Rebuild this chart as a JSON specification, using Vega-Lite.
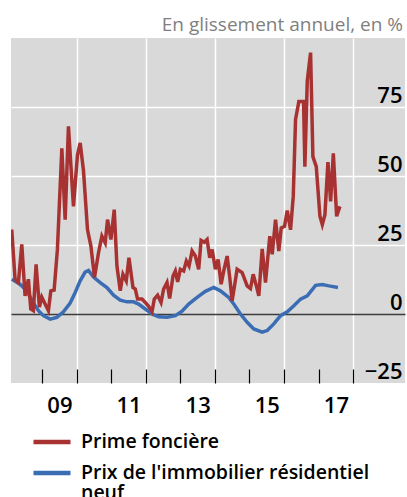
{
  "$schema": "https://vega.github.io/schema/vega-lite/v6.json",
  "width": 394,
  "height": 345,
  "autosize": {"type": "none"},
  "padding": {"left": 11, "top": 38, "right": 2, "bottom": 114},
  "background": "#ffffff",
  "title": {
    "text": "En glissement annuel, en %",
    "anchor": "end",
    "orient": "top",
    "offset": 3,
    "dx": -2,
    "font": "Open Sans",
    "fontSize": 19,
    "fontWeight": "normal",
    "color": "#7f7f7f"
  },
  "config": {
    "view": {"fill": "#d9d9d9", "stroke": null},
    "font": "Open Sans"
  },
  "data": {
    "values": [
      {"date": 2008.122, "value": 12.6, "series": "Prix de l'immobilier résidentiel neuf"},
      {"date": 2008.362, "value": 10.8, "series": "Prix de l'immobilier résidentiel neuf"},
      {"date": 2008.557, "value": 8.4, "series": "Prix de l'immobilier résidentiel neuf"},
      {"date": 2008.748, "value": 4.0, "series": "Prix de l'immobilier résidentiel neuf"},
      {"date": 2008.893, "value": 1.2, "series": "Prix de l'immobilier résidentiel neuf"},
      {"date": 2009.038, "value": -0.6, "series": "Prix de l'immobilier résidentiel neuf"},
      {"date": 2009.232, "value": -1.9, "series": "Prix de l'immobilier résidentiel neuf"},
      {"date": 2009.426, "value": -1.2, "series": "Prix de l'immobilier résidentiel neuf"},
      {"date": 2009.617, "value": 0.8, "series": "Prix de l'immobilier résidentiel neuf"},
      {"date": 2009.812, "value": 4.0, "series": "Prix de l'immobilier résidentiel neuf"},
      {"date": 2009.957, "value": 7.8, "series": "Prix de l'immobilier résidentiel neuf"},
      {"date": 2010.101, "value": 12.0, "series": "Prix de l'immobilier résidentiel neuf"},
      {"date": 2010.246, "value": 15.2, "series": "Prix de l'immobilier résidentiel neuf"},
      {"date": 2010.342, "value": 15.8, "series": "Prix de l'immobilier résidentiel neuf"},
      {"date": 2010.487, "value": 13.4, "series": "Prix de l'immobilier résidentiel neuf"},
      {"date": 2010.681, "value": 11.4, "series": "Prix de l'immobilier résidentiel neuf"},
      {"date": 2010.875, "value": 9.6, "series": "Prix de l'immobilier résidentiel neuf"},
      {"date": 2011.067, "value": 6.8, "series": "Prix de l'immobilier résidentiel neuf"},
      {"date": 2011.261, "value": 5.0, "series": "Prix de l'immobilier résidentiel neuf"},
      {"date": 2011.455, "value": 4.4, "series": "Prix de l'immobilier résidentiel neuf"},
      {"date": 2011.646, "value": 4.4, "series": "Prix de l'immobilier résidentiel neuf"},
      {"date": 2011.791, "value": 3.6, "series": "Prix de l'immobilier résidentiel neuf"},
      {"date": 2011.986, "value": 1.8, "series": "Prix de l'immobilier résidentiel neuf"},
      {"date": 2012.180, "value": 0.0, "series": "Prix de l'immobilier résidentiel neuf"},
      {"date": 2012.371, "value": -1.0, "series": "Prix de l'immobilier résidentiel neuf"},
      {"date": 2012.614, "value": -1.2, "series": "Prix de l'immobilier résidentiel neuf"},
      {"date": 2012.855, "value": -0.6, "series": "Prix de l'immobilier résidentiel neuf"},
      {"date": 2013.049, "value": 1.0, "series": "Prix de l'immobilier résidentiel neuf"},
      {"date": 2013.241, "value": 3.6, "series": "Prix de l'immobilier résidentiel neuf"},
      {"date": 2013.484, "value": 6.0, "series": "Prix de l'immobilier résidentiel neuf"},
      {"date": 2013.725, "value": 8.2, "series": "Prix de l'immobilier résidentiel neuf"},
      {"date": 2013.965, "value": 9.6, "series": "Prix de l'immobilier résidentiel neuf"},
      {"date": 2014.159, "value": 8.4, "series": "Prix de l'immobilier résidentiel neuf"},
      {"date": 2014.400, "value": 6.0, "series": "Prix de l'immobilier résidentiel neuf"},
      {"date": 2014.545, "value": 3.6, "series": "Prix de l'immobilier résidentiel neuf"},
      {"date": 2014.739, "value": 0.0, "series": "Prix de l'immobilier résidentiel neuf"},
      {"date": 2014.933, "value": -3.0, "series": "Prix de l'immobilier résidentiel neuf"},
      {"date": 2015.125, "value": -5.4, "series": "Prix de l'immobilier résidentiel neuf"},
      {"date": 2015.368, "value": -6.6, "series": "Prix de l'immobilier résidentiel neuf"},
      {"date": 2015.513, "value": -6.0, "series": "Prix de l'immobilier résidentiel neuf"},
      {"date": 2015.704, "value": -3.6, "series": "Prix de l'immobilier résidentiel neuf"},
      {"date": 2015.899, "value": -0.6, "series": "Prix de l'immobilier résidentiel neuf"},
      {"date": 2016.093, "value": 0.8, "series": "Prix de l'immobilier résidentiel neuf"},
      {"date": 2016.284, "value": 3.0, "series": "Prix de l'immobilier résidentiel neuf"},
      {"date": 2016.478, "value": 5.4, "series": "Prix de l'immobilier résidentiel neuf"},
      {"date": 2016.672, "value": 6.6, "series": "Prix de l'immobilier résidentiel neuf"},
      {"date": 2016.913, "value": 10.4, "series": "Prix de l'immobilier résidentiel neuf"},
      {"date": 2017.107, "value": 10.7, "series": "Prix de l'immobilier résidentiel neuf"},
      {"date": 2017.299, "value": 10.2, "series": "Prix de l'immobilier résidentiel neuf"},
      {"date": 2017.559, "value": 9.6, "series": "Prix de l'immobilier résidentiel neuf"},
      {"date": 2008.122, "value": 30.6, "series": "Prime foncière"},
      {"date": 2008.217, "value": 12.6, "series": "Prime foncière"},
      {"date": 2008.313, "value": 11.4, "series": "Prime foncière"},
      {"date": 2008.412, "value": 25.2, "series": "Prime foncière"},
      {"date": 2008.507, "value": 6.6, "series": "Prime foncière"},
      {"date": 2008.603, "value": 12.6, "series": "Prime foncière"},
      {"date": 2008.672, "value": 1.8, "series": "Prime foncière"},
      {"date": 2008.748, "value": 1.2, "series": "Prime foncière"},
      {"date": 2008.826, "value": 18.0, "series": "Prime foncière"},
      {"date": 2008.922, "value": 2.5, "series": "Prime foncière"},
      {"date": 2008.991, "value": 6.1, "series": "Prime foncière"},
      {"date": 2009.087, "value": 3.6, "series": "Prime foncière"},
      {"date": 2009.183, "value": 1.2, "series": "Prime foncière"},
      {"date": 2009.252, "value": 8.4, "series": "Prime foncière"},
      {"date": 2009.348, "value": 8.7, "series": "Prime foncière"},
      {"date": 2009.443, "value": 23.4, "series": "Prime foncière"},
      {"date": 2009.571, "value": 60.0, "series": "Prime foncière"},
      {"date": 2009.667, "value": 34.2, "series": "Prime foncière"},
      {"date": 2009.762, "value": 68.0, "series": "Prime foncière"},
      {"date": 2009.907, "value": 39.0, "series": "Prime foncière"},
      {"date": 2010.023, "value": 57.6, "series": "Prime foncière"},
      {"date": 2010.101, "value": 62.0, "series": "Prime foncière"},
      {"date": 2010.197, "value": 52.0, "series": "Prime foncière"},
      {"date": 2010.313, "value": 30.6, "series": "Prime foncière"},
      {"date": 2010.412, "value": 24.6, "series": "Prime foncière"},
      {"date": 2010.516, "value": 13.2, "series": "Prime foncière"},
      {"date": 2010.632, "value": 22.2, "series": "Prime foncière"},
      {"date": 2010.730, "value": 28.2, "series": "Prime foncière"},
      {"date": 2010.826, "value": 25.8, "series": "Prime foncière"},
      {"date": 2010.893, "value": 34.2, "series": "Prime foncière"},
      {"date": 2010.991, "value": 27.0, "series": "Prime foncière"},
      {"date": 2011.087, "value": 37.8, "series": "Prime foncière"},
      {"date": 2011.165, "value": 17.4, "series": "Prime foncière"},
      {"date": 2011.261, "value": 8.4, "series": "Prime foncière"},
      {"date": 2011.339, "value": 14.4, "series": "Prime foncière"},
      {"date": 2011.435, "value": 12.0, "series": "Prime foncière"},
      {"date": 2011.513, "value": 20.4, "series": "Prime foncière"},
      {"date": 2011.629, "value": 9.6, "series": "Prime foncière"},
      {"date": 2011.696, "value": 9.0, "series": "Prime foncière"},
      {"date": 2011.762, "value": 5.4, "series": "Prime foncière"},
      {"date": 2011.890, "value": 5.4, "series": "Prime foncière"},
      {"date": 2011.986, "value": 4.2, "series": "Prime foncière"},
      {"date": 2012.081, "value": 2.8, "series": "Prime foncière"},
      {"date": 2012.180, "value": 0.8, "series": "Prime foncière"},
      {"date": 2012.246, "value": 5.4, "series": "Prime foncière"},
      {"date": 2012.342, "value": 6.8, "series": "Prime foncière"},
      {"date": 2012.441, "value": 4.2, "series": "Prime foncière"},
      {"date": 2012.516, "value": 9.0, "series": "Prime foncière"},
      {"date": 2012.614, "value": 11.4, "series": "Prime foncière"},
      {"date": 2012.690, "value": 5.6, "series": "Prime foncière"},
      {"date": 2012.788, "value": 13.8, "series": "Prime foncière"},
      {"date": 2012.855, "value": 15.6, "series": "Prime foncière"},
      {"date": 2012.922, "value": 11.6, "series": "Prime foncière"},
      {"date": 2013.000, "value": 16.2, "series": "Prime foncière"},
      {"date": 2013.096, "value": 15.6, "series": "Prime foncière"},
      {"date": 2013.174, "value": 19.2, "series": "Prime foncière"},
      {"date": 2013.252, "value": 17.4, "series": "Prime foncière"},
      {"date": 2013.339, "value": 22.8, "series": "Prime foncière"},
      {"date": 2013.435, "value": 21.0, "series": "Prime foncière"},
      {"date": 2013.530, "value": 16.2, "series": "Prime foncière"},
      {"date": 2013.600, "value": 26.7, "series": "Prime foncière"},
      {"date": 2013.696, "value": 26.0, "series": "Prime foncière"},
      {"date": 2013.774, "value": 27.0, "series": "Prime foncière"},
      {"date": 2013.849, "value": 20.4, "series": "Prime foncière"},
      {"date": 2013.919, "value": 23.4, "series": "Prime foncière"},
      {"date": 2014.014, "value": 16.2, "series": "Prime foncière"},
      {"date": 2014.093, "value": 19.8, "series": "Prime foncière"},
      {"date": 2014.180, "value": 10.8, "series": "Prime foncière"},
      {"date": 2014.255, "value": 15.6, "series": "Prime foncière"},
      {"date": 2014.354, "value": 21.0, "series": "Prime foncière"},
      {"date": 2014.429, "value": 13.2, "series": "Prime foncière"},
      {"date": 2014.499, "value": 4.8, "series": "Prime foncière"},
      {"date": 2014.643, "value": 16.2, "series": "Prime foncière"},
      {"date": 2014.788, "value": 15.0, "series": "Prime foncière"},
      {"date": 2014.933, "value": 10.2, "series": "Prime foncière"},
      {"date": 2015.029, "value": 9.2, "series": "Prime foncière"},
      {"date": 2015.107, "value": 14.4, "series": "Prime foncière"},
      {"date": 2015.203, "value": 10.0, "series": "Prime foncière"},
      {"date": 2015.270, "value": 6.6, "series": "Prime foncière"},
      {"date": 2015.368, "value": 23.6, "series": "Prime foncière"},
      {"date": 2015.464, "value": 11.4, "series": "Prime foncière"},
      {"date": 2015.588, "value": 28.2, "series": "Prime foncière"},
      {"date": 2015.658, "value": 21.6, "series": "Prime foncière"},
      {"date": 2015.754, "value": 34.2, "series": "Prime foncière"},
      {"date": 2015.849, "value": 22.8, "series": "Prime foncière"},
      {"date": 2015.919, "value": 31.2, "series": "Prime foncière"},
      {"date": 2016.014, "value": 31.8, "series": "Prime foncière"},
      {"date": 2016.093, "value": 37.5, "series": "Prime foncière"},
      {"date": 2016.188, "value": 30.5, "series": "Prime foncière"},
      {"date": 2016.267, "value": 42.6, "series": "Prime foncière"},
      {"date": 2016.333, "value": 70.5, "series": "Prime foncière"},
      {"date": 2016.429, "value": 77.0, "series": "Prime foncière"},
      {"date": 2016.565, "value": 77.0, "series": "Prime foncière"},
      {"date": 2016.603, "value": 53.4, "series": "Prime foncière"},
      {"date": 2016.672, "value": 84.5, "series": "Prime foncière"},
      {"date": 2016.768, "value": 94.7, "series": "Prime foncière"},
      {"date": 2016.835, "value": 57.0, "series": "Prime foncière"},
      {"date": 2016.933, "value": 53.4, "series": "Prime foncière"},
      {"date": 2017.038, "value": 35.4, "series": "Prime foncière"},
      {"date": 2017.107, "value": 32.4, "series": "Prime foncière"},
      {"date": 2017.183, "value": 36.0, "series": "Prime foncière"},
      {"date": 2017.270, "value": 55.0, "series": "Prime foncière"},
      {"date": 2017.348, "value": 40.8, "series": "Prime foncière"},
      {"date": 2017.426, "value": 58.2, "series": "Prime foncière"},
      {"date": 2017.522, "value": 35.4, "series": "Prime foncière"},
      {"date": 2017.617, "value": 39.0, "series": "Prime foncière"}
    ]
  },
  "mark": {"type": "line", "strokeWidth": 3.5, "clip": true},
  "encoding": {
    "x": {
      "field": "date",
      "type": "quantitative",
      "scale": {"domain": [2008.1, 2019.5], "nice": false, "zero": false},
      "axis": {
        "title": null,
        "orient": "bottom",
        "values": [2009, 2009.5, 2010, 2011, 2011.5, 2012, 2013, 2013.5, 2014, 2015, 2015.5, 2016, 2017, 2017.5, 2018],
        "domain": false,
        "ticks": true,
        "tickSize": -14,
        "tickWidth": 1.2,
        "tickColor": "#000000",
        "tickOpacity": {"condition": {"test": "datum.value % 1 == 0", "value": 1}, "value": 0},
        "grid": true,
        "gridColor": "#ffffff",
        "gridWidth": 1.5,
        "gridOpacity": {"condition": {"test": "datum.value % 2 == 0", "value": 1}, "value": 0},
        "labelExpr": "datum.value % 1 != 0 ? substring(toString(floor(datum.value)), 2, 4) : ''",
        "labelFont": "Open Sans",
        "labelFontSize": 22,
        "labelFontWeight": 600,
        "labelColor": "#000000",
        "labelPadding": 26,
        "labelBaseline": "top",
        "labelOverlap": false,
        "labelFlush": false
      }
    },
    "y": {
      "field": "value",
      "type": "quantitative",
      "scale": {"domain": [-25, 100], "nice": false, "zero": false},
      "axis": {
        "title": null,
        "orient": "right",
        "values": [-25, 0, 25, 50, 75],
        "domain": false,
        "ticks": false,
        "grid": true,
        "gridColor": {"condition": {"test": "datum.value == 0", "value": "#3c3c3c"}, "value": "#ffffff"},
        "gridWidth": 1.5,
        "gridOpacity": {"condition": {"test": "datum.value >= 0", "value": 1}, "value": 0},
        "labelExpr": "datum.value < 0 ? '\u221225' : datum.label",
        "labelFont": "Open Sans",
        "labelFontSize": 22,
        "labelFontWeight": 600,
        "labelColor": "#000000",
        "labelAlign": "right",
        "labelBaseline": "alphabetic",
        "labelOffset": -5,
        "labelPadding": -3,
        "labelOverlap": false,
        "labelFlush": false
      }
    },
    "color": {
      "field": "series",
      "type": "nominal",
      "scale": {
        "domain": ["Prime foncière", "Prix de l'immobilier résidentiel neuf"],
        "range": ["#a83232", "#3a6db4"]
      },
      "legend": {
        "title": null,
        "orient": "none",
        "legendX": 20,
        "legendY": 383,
        "padding": 0,
        "symbolType": "stroke",
        "symbolStrokeWidth": 4.5,
        "symbolSize": 1370,
        "labelFont": "Open Sans",
        "labelFontSize": 19.5,
        "labelFontWeight": 600,
        "labelColor": "#000000",
        "labelOffset": 8,
        "labelLimit": 400,
        "rowPadding": -5,
        "labelExpr": "indexof(datum.label, 'neuf') > 0 ? [\"Prix de l'immobilier résidentiel\", 'neuf'] : datum.label",
        "encoding": {"labels": {"lineHeight": {"value": 20}}}
      }
    }
  }
}
